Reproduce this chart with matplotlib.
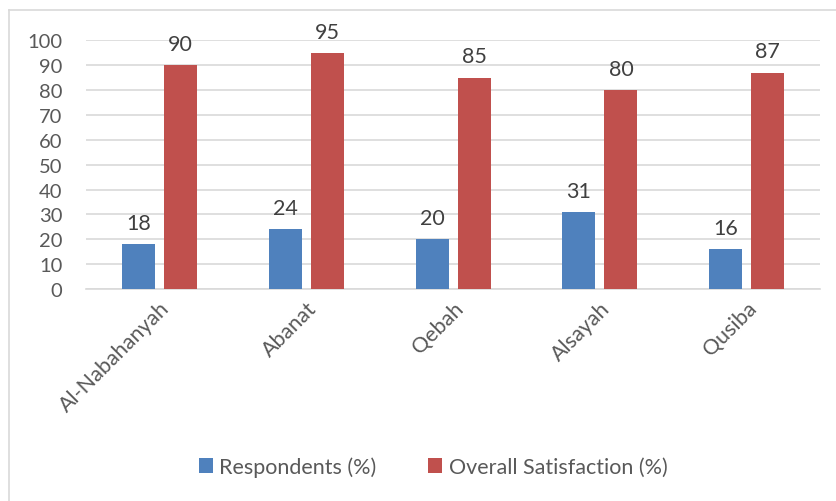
import numpy as np
import matplotlib.pyplot as plt
from matplotlib.lines import Line2D

plt.rcParams['font.family'] = ['Lato', 'DejaVu Sans']

# ==============================
# Data
# ==============================

villages = ["Al-Nabahanyah", "Abanat", "Qebah", "Alsayah", "Qusiba"]
respondents = [18, 24, 20, 31, 16]
satisfaction = [90, 95, 85, 80, 87]

blue = "#4F81BD"
red = "#C0504D"
grey = "#595959"

# ==============================
# Figure
# ==============================

fig = plt.figure(figsize=(8.36, 5.02), dpi=100)
ax = fig.add_axes([0.103, 0.422, 0.878, 0.496])

x = np.arange(len(villages))
w = 0.225
off = 0.143

b1 = ax.bar(x - off, respondents, w, color=blue, label="Respondents (%)", zorder=3)
b2 = ax.bar(x + off, satisfaction, w, color=red, label="Overall Satisfaction (%)", zorder=3)

for bars in (b1, b2):
    ax.bar_label(bars, padding=8, fontsize=15.5, color="#404040")

ax.set_xlim(-0.5, len(villages) - 0.5)
ax.set_ylim(0, 100)
ax.set_yticks(range(0, 101, 10))
ax.yaxis.grid(True, color="#D9D9D9", linewidth=1.2, zorder=0)
ax.set_axisbelow(True)

for s in ["top", "right", "left"]:
    ax.spines[s].set_visible(False)
ax.spines["bottom"].set_color("#D9D9D9")
ax.spines["bottom"].set_linewidth(1.2)

ax.tick_params(axis="both", length=0, colors=grey)
ax.tick_params(axis="y", pad=17, labelsize=14.5)
ax.set_xticks(x)
ax.set_xticklabels(villages, rotation=45, ha="right", rotation_mode="anchor",
                   fontsize=15.5)
ax.tick_params(axis="x", pad=6)

fig.legend(
    handles=[b1, b2],
    loc="center",
    bbox_to_anchor=(0.518, 0.068),
    ncol=2,
    frameon=False,
    fontsize=15.5,
    labelcolor=grey,
    handlelength=0.65,
    handleheight=0.65,
    handletextpad=0.3,
    columnspacing=2.4,
)

# chart border
fig.add_artist(Line2D([9 / 836, 9 / 836], [0, 1 - 11 / 502], color="#D9D9D9", lw=1.2))
fig.add_artist(Line2D([9 / 836, 1], [1 - 11 / 502, 1 - 11 / 502], color="#D9D9D9", lw=1.2))

plt.savefig("out.png", dpi=100)
plt.close()
